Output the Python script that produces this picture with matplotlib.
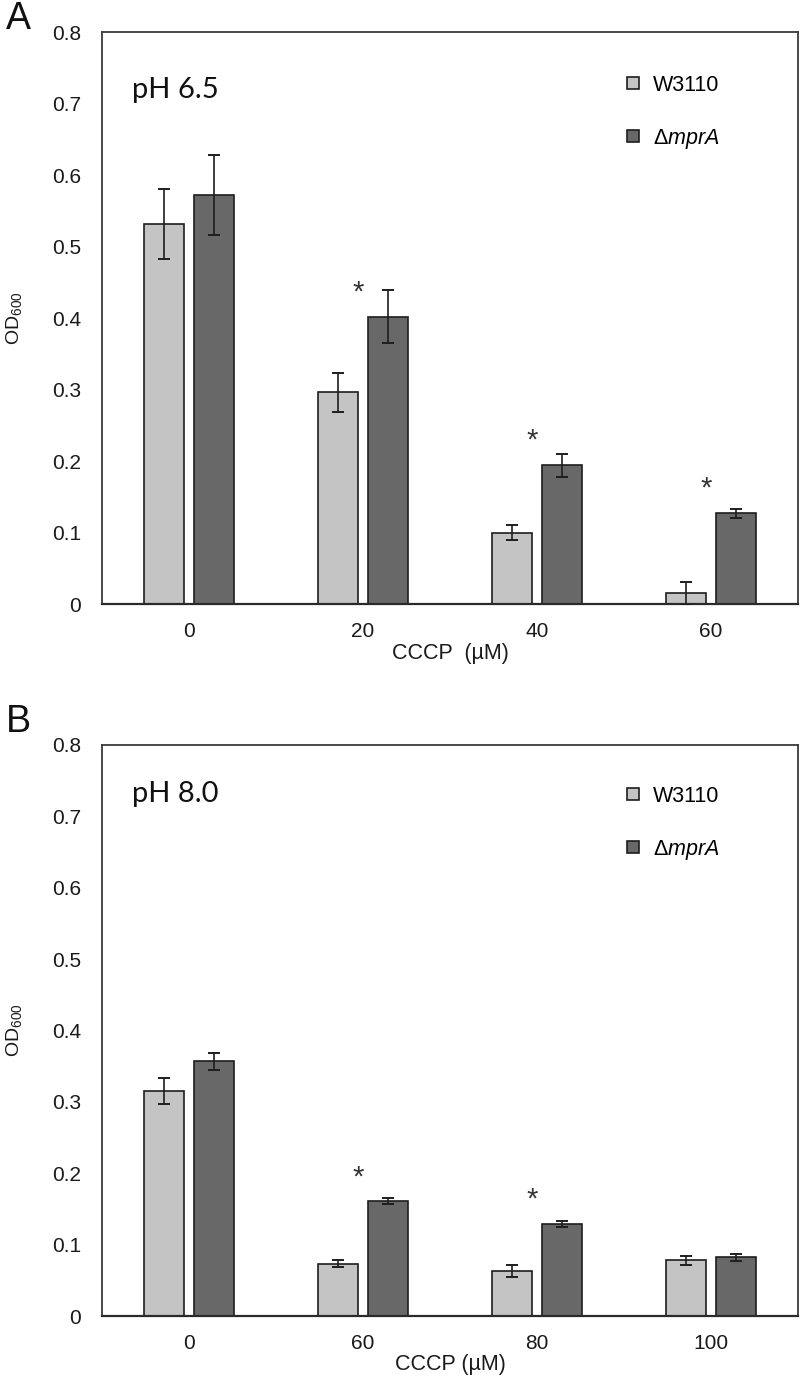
import matplotlib
matplotlib.use('Agg')
import matplotlib.pyplot as plt
import numpy as np
from matplotlib.lines import Line2D

# ---------------- data ----------------
conc_a = ['0', '20', '40', '60']
w3110_a = [0.532, 0.296, 0.100, 0.015]
w3110_a_err = [0.049, 0.027, 0.010, 0.016]
mpra_a = [0.572, 0.402, 0.194, 0.127]
mpra_a_err = [0.056, 0.037, 0.016, 0.006]
star_a = [None, 0.444, 0.236, 0.169]

conc_b = ['0', '60', '80', '100']
w3110_b = [0.315, 0.073, 0.063, 0.078]
w3110_b_err = [0.018, 0.005, 0.008, 0.006]
mpra_b = [0.357, 0.161, 0.129, 0.082]
mpra_b_err = [0.012, 0.004, 0.004, 0.005]
star_b = [None, 0.202, 0.171, None]

yticks = [0, 0.1, 0.2, 0.3, 0.4, 0.5, 0.6, 0.7, 0.8]
ytick_labels = ['0', '0.1', '0.2', '0.3', '0.4', '0.5', '0.6', '0.7', '0.8']
series_names = ['W3110', 'Δ$\\mathit{mprA}$']

# ---------------- style ----------------
plt.rcParams['font.family'] = ['Liberation Sans', 'DejaVu Sans']
plt.rcParams['mathtext.fontset'] = 'custom'
plt.rcParams['mathtext.rm'] = 'Liberation Sans'
plt.rcParams['mathtext.it'] = 'Liberation Sans:italic'
plt.rcParams['mathtext.sf'] = 'Liberation Sans'

LIGHT = '#c4c4c4'
DARK = '#686868'
EDGE = '#1e1e1e'
TXT = '#1a1a1a'

fig = plt.figure(figsize=(8, 13.76), dpi=100)


def panel(ax, cats, w, we, m, me, stars, title, xlabel):
    x = np.arange(len(cats)) + 0.5
    bw = 0.23
    off = 0.144
    ax.bar(x - off, w, width=bw, color=LIGHT, edgecolor=EDGE, linewidth=1.2, zorder=2)
    ax.bar(x + off, m, width=bw, color=DARK, edgecolor=EDGE, linewidth=1.2, zorder=2)
    ax.errorbar(x - off, w, yerr=we, fmt='none', ecolor=EDGE, elinewidth=1.2,
                capsize=4, capthick=1.4, zorder=3)
    ax.errorbar(x + off, m, yerr=me, fmt='none', ecolor=EDGE, elinewidth=1.2,
                capsize=4, capthick=1.4, zorder=3)
    for xi, s in zip(x, stars):
        if s is not None:
            ax.annotate('*', xy=(xi - 0.03, s), xytext=(0, -4), textcoords='offset points',
                        ha='center', va='center', fontsize=21, color='#333333')
    ax.set_xlim(0, 4)
    ax.set_ylim(0, 0.8)
    ax.set_xticks(x)
    ax.set_xticklabels(cats)
    ax.set_yticks(yticks)
    ax.set_yticklabels(ytick_labels)
    ax.tick_params(axis='both', length=0, labelsize=15, colors=TXT)
    ax.tick_params(axis='y', pad=15)
    ax.tick_params(axis='x', pad=13)
    for sp in ax.spines.values():
        sp.set_color('#3a3a3a')
        sp.set_linewidth(1.3)
    ax.spines['bottom'].set_color('#2a2a2a')
    ax.spines['bottom'].set_linewidth(1.6)
    ax.set_xlabel(xlabel, fontsize=15.5, color=TXT, labelpad=1)
    ax.set_ylabel('$\\mathregular{OD_{600}}$', fontsize=14, color=TXT)
    ax.yaxis.set_label_coords(-0.112, 0.5)
    ax.text(0.043, title[1], title[0], transform=ax.transAxes, fontsize=21,
            family=['Lato', 'DejaVu Sans'], color='#111111', va='baseline')
    handles = [Line2D([], [], linestyle='none', marker='s', markersize=8,
                      markerfacecolor=c, markeredgecolor=EDGE, markeredgewidth=1.2)
               for c in (LIGHT, DARK)]
    ax.legend(handles, series_names, loc='center left', bbox_to_anchor=(0.747, title[2]),
              frameon=False, fontsize=15.5, handlelength=1.0, handletextpad=0.45,
              labelspacing=1.45, borderpad=0, borderaxespad=0)


ax_a = fig.add_axes([0.1275, 0.561, 0.87, 0.4157])
panel(ax_a, conc_a, w3110_a, w3110_a_err, mpra_a, mpra_a_err, star_a,
      ('pH 6.5', 0.884, 0.859), 'CCCP  (µM)')

ax_b = fig.add_axes([0.1275, 0.0436, 0.87, 0.415])
panel(ax_b, conc_b, w3110_b, w3110_b_err, mpra_b, mpra_b_err, star_b,
      ('pH 8.0', 0.900, 0.862), 'CCCP (µM)')

fig.text(6 / 800, 1 - 19 / 1376, 'A', fontsize=27, va='center', ha='left', color='#111111')
fig.text(6 / 800, 1 - 722 / 1376, 'B', fontsize=27, va='center', ha='left', color='#111111')

fig.savefig('out.png', dpi=100)
